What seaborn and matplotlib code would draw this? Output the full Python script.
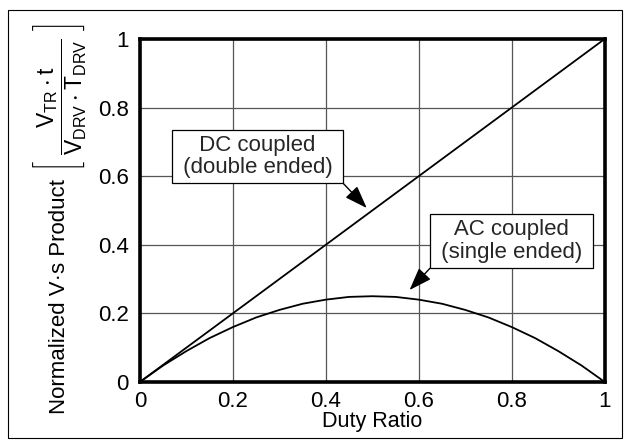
import numpy as np
import pandas as pd
import seaborn as sns
import matplotlib.pyplot as plt
from matplotlib.patches import Rectangle

# values
duty = [0.0, 0.05, 0.1, 0.15, 0.2, 0.25, 0.3, 0.35, 0.4, 0.45, 0.5,
        0.55, 0.6, 0.65, 0.7, 0.75, 0.8, 0.85, 0.9, 0.95, 1.0]
dc_coupled = [0.0, 0.05, 0.1, 0.15, 0.2, 0.25, 0.3, 0.35, 0.4, 0.45, 0.5,
              0.55, 0.6, 0.65, 0.7, 0.75, 0.8, 0.85, 0.9, 0.95, 1.0]
ac_coupled = [0.0, 0.048, 0.09, 0.128, 0.16, 0.188, 0.21, 0.228, 0.24, 0.248, 0.25,
              0.248, 0.24, 0.228, 0.21, 0.188, 0.16, 0.128, 0.09, 0.048, 0.0]
ticks = [0, 0.2, 0.4, 0.6, 0.8, 1]
tick_labels = ["0", "0.2", "0.4", "0.6", "0.8", "1"]

sns.set_theme(style="white")
plt.rcParams['font.family'] = ['Liberation Sans', 'DejaVu Sans']
plt.rcParams['mathtext.fontset'] = 'custom'
plt.rcParams['mathtext.rm'] = 'Liberation Sans'
plt.rcParams['mathtext.default'] = 'regular'

fig = plt.figure(figsize=(6.3, 4.45), dpi=100)
ax = fig.add_axes([0.222, 0.1416, 0.738, 0.771])

df = pd.DataFrame({"duty": duty, "dc": dc_coupled, "ac": ac_coupled})
sns.lineplot(data=df, x="duty", y="dc", ax=ax, color="black", lw=1.3)
sns.lineplot(data=df, x="duty", y="ac", ax=ax, color="black", lw=1.3)

ax.set_xlim(0, 1)
ax.set_ylim(0, 1)
ax.set_xticks(ticks)
ax.set_xticklabels(tick_labels)
ax.set_yticks(ticks)
ax.set_yticklabels(tick_labels)
ax.grid(True, color="#555555", lw=0.9)
ax.tick_params(axis="x", length=0, pad=6.5, labelsize=16, colors="black")
ax.tick_params(axis="y", length=0, pad=8, labelsize=16, colors="black")
for s in ax.spines.values():
    s.set_color("black")
    s.set_linewidth(2.6)
ax.set_xlabel("Duty Ratio", fontsize=15.5, color="black", labelpad=-1)
ax.set_ylabel("")

fig.text(0.094, 0.333, "Normalized V·s Product", rotation=90, fontsize=16,
         ha="center", va="center", color="black")
fig.text(0.095, 0.78, r"$\left[\ \dfrac{V_{TR}\cdot t}{V_{DRV}\cdot T_{DRV}}\ \right]$",
         rotation=90, fontsize=16.5, ha="center", va="center", color="black")

box = dict(boxstyle="square,pad=0.22", fc="white", ec="black", lw=0.9)
arrow = "-|>,head_length=0.7,head_width=0.25"
ax.annotate(" DC coupled \n (double ended) ", xy=(0.488, 0.507), xytext=(0.253, 0.657),
            ha="center", va="center", fontsize=16, linespacing=1.1, bbox=box, zorder=5,
            arrowprops=dict(arrowstyle=arrow, color="black", lw=1, relpos=(1, 0),
                            shrinkA=0, shrinkB=0, mutation_scale=20))
ax.annotate(" AC coupled \n (single ended) ", xy=(0.58, 0.268), xytext=(0.80, 0.411),
            ha="center", va="center", fontsize=16, linespacing=1.1, bbox=box, zorder=5,
            arrowprops=dict(arrowstyle=arrow, color="black", lw=1, relpos=(0, 0),
                            shrinkA=0, shrinkB=0, mutation_scale=20))

fig.patches.append(Rectangle((0.0127, 0.0157), 0.975, 0.962, transform=fig.transFigure,
                             fill=False, ec="black", lw=0.8))

fig.savefig("out.png", dpi=100)
